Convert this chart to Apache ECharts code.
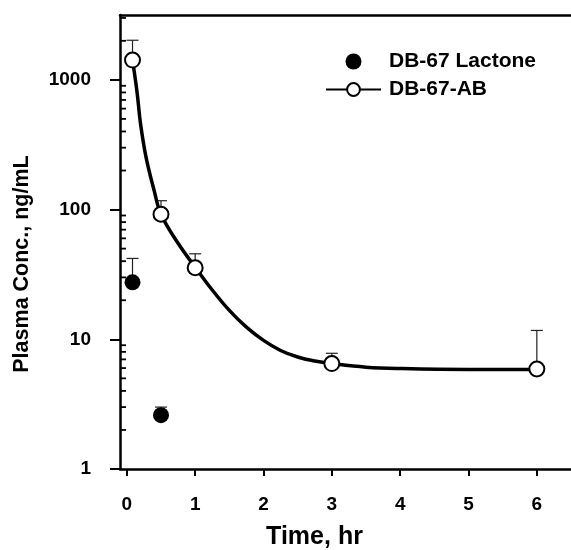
<!DOCTYPE html>
<html>
<head>
<meta charset="utf-8">
<script src="https://cdn.jsdelivr.net/npm/echarts@6/dist/echarts.min.js"></script>
<style>html,body{margin:0;padding:0;background:#fff;}#c{width:571px;height:550px;}</style>
</head>
<body>
<div id="c"></div>
<script>
// ---- data ----
const lactoneTime  = [0.083, 0.5];
const lactoneConc  = [27.5, 2.6];
const lactoneUpper = [42, 3.0];

const abTime  = [0.083, 0.5, 1, 3, 6];
const abConc  = [1420, 92, 35.6, 6.5, 5.9];
const abUpper = [2020, 117, 45.6, 7.8, 11.7];

// fitted curve for DB-67-AB
const fitTime = [0.083, 0.15, 0.2, 0.28, 0.4, 0.5, 0.75, 1, 1.25, 1.5, 1.75, 2, 2.25, 2.5, 2.75, 3, 3.5, 4, 5, 6];
const fitConc = [1420, 800, 460, 255, 140, 92, 55, 36, 24, 16.7, 12.4, 9.8, 8.2, 7.3, 6.8, 6.5, 6.1, 5.95, 5.85, 5.85];

const xTicks = [0, 1, 2, 3, 4, 5, 6];
const xRange = [-0.1, 6.5];
const yRange = [1, 3162];
const yMajorTicks = [1, 10, 100, 1000];
const yMinorTicks = [2,3,4,5,6,7,8,9, 20,30,40,50,60,70,80,90, 200,300,400,500,600,700,800,900, 2000, 3000];

const seriesNames = ['DB-67 Lactone', 'DB-67-AB'];
const xTitle = 'Time, hr';
const yTitle = 'Plasma Conc., ng/mL';

const FONT = '"Liberation Sans", Arial, sans-serif';
const chart = echarts.init(document.getElementById('c'), null, {renderer: 'canvas'});

function errRender(params, api) {
  const x = api.value(0), lo = api.value(1), hi = api.value(2);
  const p0 = api.coord([x, lo]);
  const p1 = api.coord([x, hi]);
  const hw = 6;
  return {
    type: 'group',
    children: [
      {type: 'line', shape: {x1: p0[0], y1: p0[1], x2: p1[0], y2: p1[1]}, style: {stroke: '#222', lineWidth: 1.2}},
      {type: 'line', shape: {x1: p1[0] - hw, y1: p1[1], x2: p1[0] + hw, y2: p1[1]}, style: {stroke: '#222', lineWidth: 1.2}}
    ]
  };
}

const titleGraphics = [
  {type: 'text', id: 'xTitle', x: 314.5, y: 537, style: {text: xTitle, x: 0, y: 0, align: 'center', verticalAlign: 'middle',
    font: 'bold 25px ' + FONT, fill: '#000'}},
  {type: 'text', id: 'yTitle', rotation: Math.PI / 2, x: 22, y: 264, style: {text: yTitle, x: 0, y: 0, align: 'center', verticalAlign: 'middle',
    font: 'bold 21.5px ' + FONT, fill: '#000'}}
];

const option = {
  animation: false,
  backgroundColor: '#fff',
  grid: {left: 120, top: 15, right: -3.5, bottom: 81, containLabel: false},
  legend: {
    data: seriesNames,
    orient: 'vertical',
    left: 320,
    top: 46,
    itemWidth: 55,
    itemHeight: 16,
    itemGap: 7,
    textStyle: {fontFamily: FONT, fontWeight: 'bold', fontSize: 21, color: '#000', padding: [0, 0, 0, 3]}
  },
  xAxis: [
    {
      type: 'value', min: xRange[0], max: xRange[1], position: 'bottom',
      axisLine: {show: true, onZero: false, lineStyle: {color: '#000', width: 2.5}},
      axisTick: {show: true, customValues: xTicks, length: 7, lineStyle: {color: '#000', width: 2}},
      axisLabel: {customValues: xTicks, margin: 26, fontFamily: FONT, fontWeight: 'bold', fontSize: 19, color: '#000'},
      splitLine: {show: false}
    },
    {
      type: 'value', min: xRange[0], max: xRange[1], position: 'top',
      axisLine: {show: true, onZero: false, lineStyle: {color: '#000', width: 2.5}},
      axisTick: {show: false}, axisLabel: {show: false}, splitLine: {show: false}
    }
  ],
  yAxis: [
    {
      type: 'log', logBase: 10, min: yRange[0], max: yRange[1], position: 'left',
      axisLine: {show: true, onZero: false, lineStyle: {color: '#000', width: 2.5}},
      axisTick: {show: true, customValues: yMajorTicks, length: 10, lineStyle: {color: '#000', width: 2}},
      axisLabel: {customValues: yMajorTicks, margin: 29, fontFamily: FONT, fontWeight: 'bold', fontSize: 19, color: '#000',
        formatter: v => String(Math.round(v))},
      splitLine: {show: false}
    }
  ],
  graphic: titleGraphics,
  series: [
    {
      type: 'custom', name: 'lacErr', renderItem: errRender, z: 1,
      encode: {x: 0, y: [1, 2]},
      data: lactoneTime.map((t, i) => [t, lactoneConc[i], lactoneUpper[i]])
    },
    {
      type: 'custom', name: 'abErr', renderItem: errRender, z: 1,
      encode: {x: 0, y: [1, 2]},
      data: abTime.map((t, i) => [t, abConc[i], abUpper[i]])
    },
    {
      type: 'line', name: 'DB-67-AB', z: 2, smooth: 0.4,
      symbol: 'circle', symbolSize: 13, showSymbol: false,
      itemStyle: {color: '#fff', borderColor: '#000', borderWidth: 2, opacity: 1},
      lineStyle: {color: '#000', width: 3.5},
      data: fitTime.map((t, i) => [t, fitConc[i]])
    },
    {
      type: 'scatter', name: 'DB-67 Lactone', z: 3,
      symbol: 'circle', symbolSize: 16,
      itemStyle: {color: '#000', opacity: 1},
      data: lactoneTime.map((t, i) => [t, lactoneConc[i]])
    },
    {
      type: 'scatter', name: 'abPoints', z: 3,
      symbol: 'circle', symbolSize: 15,
      itemStyle: {color: '#fff', borderColor: '#000', borderWidth: 2, opacity: 1},
      data: abTime.map((t, i) => [t, abConc[i]])
    }
  ]
};
chart.setOption(option);

// minor log ticks on the inside of the y axis, positioned through the chart's own scales
const minorTickGraphics = yMinorTicks.map((v, i) => {
  const p = chart.convertToPixel({xAxisIndex: 0, yAxisIndex: 0}, [xRange[0], v]);
  return {
    type: 'line', id: 'minor' + i, z: 100,
    shape: {x1: p[0], y1: p[1], x2: p[0] + 6, y2: p[1]},
    style: {stroke: '#000', lineWidth: 1.8}
  };
});
chart.setOption({graphic: titleGraphics.concat(minorTickGraphics)});
</script>
</body>
</html>
